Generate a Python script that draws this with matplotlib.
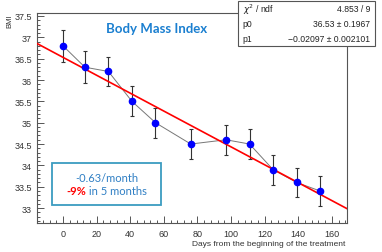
import numpy as np
import matplotlib.pyplot as plt
from matplotlib.offsetbox import TextArea, HPacker, VPacker, AnchoredOffsetbox
from matplotlib.ticker import MultipleLocator
from matplotlib.patches import Rectangle

# измерения
days = [0, 13, 27, 41, 55, 76, 97, 111, 125, 139, 153]
bmi = [36.8, 36.3, 36.2, 35.5, 35.0, 34.5, 34.6, 34.5, 33.9, 33.6, 33.4]
bmi_err = [0.37, 0.37, 0.35, 0.35, 0.35, 0.35, 0.35, 0.35, 0.35, 0.35, 0.35]
p0, p1 = 36.53, -0.02097
stat_names = ["$\\chi^2$ / ndf", "p0", "p1"]
stat_values = ["4.853 / 9", "36.53 \u00b1 0.1967", "\u22120.02097 \u00b1 0.002101"]

plt.rcParams['font.family'] = ['Liberation Sans', 'DejaVu Sans']

fig = plt.figure(figsize=(3.82, 2.53), dpi=100)
ax = fig.add_axes([0.0969, 0.1146, 0.8115, 0.8301])

ax.errorbar(days, bmi, yerr=bmi_err, fmt='none', ecolor='#333333', elinewidth=0.8,
            capsize=1.5, capthick=0.8, zorder=2)
ax.plot(days, bmi, color='#777777', lw=0.7, zorder=3)
ax.plot(days, bmi, 'o', color='#0000ff', ms=4.5, zorder=4)

xx = np.array([-15.5, 169])
ax.plot(xx, p0 + p1 * xx, color='#ff0000', lw=1.2, zorder=3)

ax.set_xlim(-15.5, 169)
ax.set_ylim(32.65, 37.57)
ax.xaxis.set_major_locator(MultipleLocator(20))
ax.xaxis.set_minor_locator(MultipleLocator(4))
ax.yaxis.set_major_locator(MultipleLocator(0.5))
ax.yaxis.set_minor_locator(MultipleLocator(0.1))
ax.tick_params(which='both', direction='in', labelsize=6.5, labelcolor='#333333',
               color='#555555', width=0.7)
ax.tick_params(which='major', length=5)
ax.tick_params(which='minor', length=2.5)
ax.tick_params(axis='x', pad=4)
ax.set_yticks([33, 33.5, 34, 34.5, 35, 35.5, 36, 36.5, 37, 37.5])
ax.set_yticklabels(['33', '33.5', '34', '34.5', '35', '35.5', '36', '36.5', '37', '37.5'])
for s in ax.spines.values():
    s.set_color('#555555')
    s.set_linewidth(0.8)

fig.text(0.025, 0.945, 'BMI', rotation=90, ha='center', va='top', fontsize=5.5, color='#333333')
fig.text(0.905, 0.02, 'Days from the beginning of the treatment', ha='right', va='bottom',
         fontsize=6, color='#333333')

ax.text(0.387, 0.93, 'Body Mass Index', transform=ax.transAxes, ha='center', va='center',
        fontsize=9.5, fontweight='bold', color='#1a7fd0', family=['Lato', 'DejaVu Sans'])

# текстовый блок
bx0, bx1 = 52 / 382, 161 / 382
by0, by1 = 1 - 206 / 253, 1 - 164 / 253
ax.add_patch(Rectangle((bx0, by0), bx1 - bx0, by1 - by0, transform=fig.transFigure,
                       facecolor='white', edgecolor='#3b9cc0', lw=1.3, zorder=5, clip_on=False))
fp = dict(fontsize=8, color='#2f7fc4', family=['Lato', 'DejaVu Sans'])
line1 = TextArea('-0.63/month', textprops=fp)
red = TextArea('-9%', textprops=dict(fp, color='#ff0000', fontweight='bold'))
blue = TextArea(' in 5 months', textprops=fp)
line2 = HPacker(children=[red, blue], align='baseline', pad=0, sep=0)
box = VPacker(children=[line1, line2], align='center', pad=0, sep=2)
anch = AnchoredOffsetbox(loc='center', child=box, pad=0, borderpad=0,
                         bbox_to_anchor=((bx0 + bx1) / 2, (by0 + by1) / 2),
                         bbox_transform=fig.transFigure, frameon=False)
anch.set_zorder(6)
ax.add_artist(anch)

# статистика
x0, x1 = 238 / 382, 375 / 382
y0, y1 = 1 - 47 / 253, 1 - 2 / 253
fig.patches.append(Rectangle((x0, y0), x1 - x0, y1 - y0, transform=fig.transFigure,
                             facecolor='white', edgecolor='#555555', lw=0.8, zorder=10))
for i, (n, v) in enumerate(zip(stat_names, stat_values)):
    yy = y1 - (i + 0.5) * (y1 - y0) / 3
    fig.text(x0 + 0.012, yy, n, ha='left', va='center', fontsize=6.2, color='#222222', zorder=11)
    fig.text(x1 - 0.012, yy, v, ha='right', va='center', fontsize=6.2, color='#222222', zorder=11)

fig.savefig('out.png', dpi=100)
